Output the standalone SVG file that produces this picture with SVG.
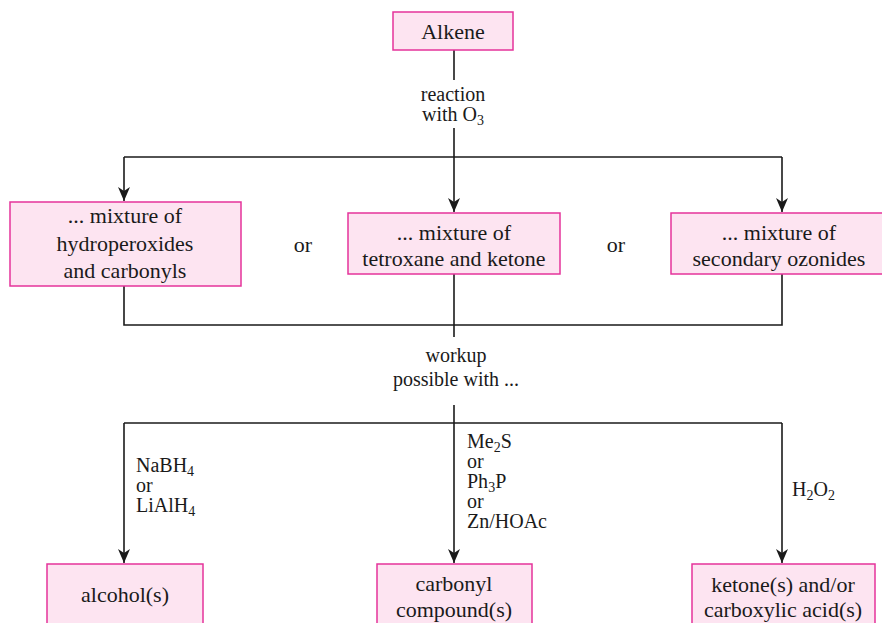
<svg xmlns="http://www.w3.org/2000/svg" width="882" height="623" viewBox="0 0 882 623">
<defs>
<style>
.box{fill:#fde4f1;stroke:#e5339a;stroke-width:1.5}
.t{font-family:"Liberation Serif","Times New Roman",serif;font-size:22px;fill:#1a1a1a;text-anchor:middle}
.l{font-family:"Liberation Serif","Times New Roman",serif;font-size:20px;fill:#1a1a1a}
.lc{text-anchor:middle}
.c{fill:none;stroke:#1a1a1a;stroke-width:1.6}
</style>
<marker id="ah" viewBox="0 0 14 12" refX="14" refY="6" markerWidth="14" markerHeight="12" markerUnits="userSpaceOnUse" orient="auto">
<path d="M0,0 L14,6 L0,12 L4,6 Z" fill="#1a1a1a"/>
</marker>
</defs>
<rect width="882" height="623" fill="#ffffff"/>
<g id="connectors">
<path class="c" d="M454,50 V80"/>
<path class="c" d="M454,128 V157"/>
<path class="c" d="M124,157 H782"/>
<path class="c" d="M124,157 V201" marker-end="url(#ah)"/>
<path class="c" d="M454,157 V212" marker-end="url(#ah)"/>
<path class="c" d="M782,157 V212" marker-end="url(#ah)"/>
<path class="c" d="M124,286 V325 H782 V274"/>
<path class="c" d="M454,274 V337"/>
<path class="c" d="M454,405 V423"/>
<path class="c" d="M124,423 H782"/>
<path class="c" d="M124,423 V563" marker-end="url(#ah)"/>
<path class="c" d="M454,423 V563" marker-end="url(#ah)"/>
<path class="c" d="M782,423 V563" marker-end="url(#ah)"/>
<text class="l lc" x="453" y="101">reaction</text>
<text class="l lc" x="453" y="121">with O<tspan font-size="14" dy="4">3</tspan></text>
<text class="l lc" x="456" y="362">workup</text>
<text class="l lc" x="456" y="386">possible with ...</text>
<text class="t" x="303" y="252">or</text>
<text class="t" x="616" y="252">or</text>
<text class="l" x="136" y="472">NaBH<tspan font-size="14" dy="4">4</tspan></text>
<text class="l" x="136" y="492">or</text>
<text class="l" x="136" y="512">LiAlH<tspan font-size="14" dy="4">4</tspan></text>
<text class="l" x="467" y="448">Me<tspan font-size="14" dy="4">2</tspan><tspan dy="-4">S</tspan></text>
<text class="l" x="467" y="468">or</text>
<text class="l" x="467" y="488">Ph<tspan font-size="14" dy="4">3</tspan><tspan dy="-4">P</tspan></text>
<text class="l" x="467" y="508">or</text>
<text class="l" x="467" y="528">Zn/HOAc</text>
<text class="l" x="792" y="496">H<tspan font-size="14" dy="4">2</tspan><tspan dy="-4">O</tspan><tspan font-size="14" dy="4">2</tspan></text>
</g>
<g id="alkene">
<rect class="box" x="393" y="12" width="120" height="38"/>
<text class="t" x="453" y="39">Alkene</text>
</g>
<g id="hydroperoxides">
<rect class="box" x="10" y="202" width="231" height="84"/>
<text class="t" x="125" y="223">... mixture of</text>
<text class="t" x="125" y="251">hydroperoxides</text>
<text class="t" x="125" y="278">and carbonyls</text>
</g>
<g id="tetroxane">
<rect class="box" x="348" y="213" width="212" height="61"/>
<text class="t" x="454" y="240">... mixture of</text>
<text class="t" x="454" y="266">tetroxane and ketone</text>
</g>
<g id="ozonides">
<rect class="box" x="671" y="213" width="215" height="61"/>
<text class="t" x="779" y="240">... mixture of</text>
<text class="t" x="779" y="266">secondary ozonides</text>
</g>
<g id="alcohols">
<rect class="box" x="47" y="564" width="156" height="70"/>
<text class="t" x="125" y="602">alcohol(s)</text>
</g>
<g id="carbonyl">
<rect class="box" x="377" y="564" width="155" height="70"/>
<text class="t" x="454" y="591">carbonyl</text>
<text class="t" x="454" y="617">compound(s)</text>
</g>
<g id="acids">
<rect class="box" x="692" y="564" width="183" height="70"/>
<text class="t" x="783" y="592">ketone(s) and/or</text>
<text class="t" x="783" y="617">carboxylic acid(s)</text>
</g>
</svg>
